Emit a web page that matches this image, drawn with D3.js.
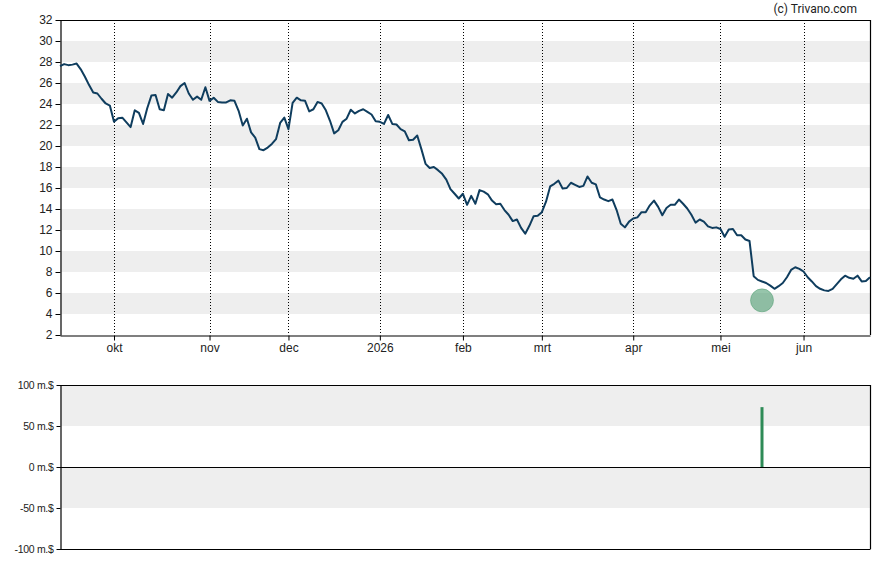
<!DOCTYPE html>
<html>
<head>
<meta charset="utf-8">
<script src="https://cdn.jsdelivr.net/npm/d3@7"></script>
<style>
  html, body { margin: 0; padding: 0; background: #fff; }
  svg { display: block; font-family: Roboto, "Liberation Sans", Arial, sans-serif; }
</style>
</head>
<body>
<svg id="chart" width="888" height="565"></svg>
<script>
// ---- data (one value per trading day, mid-Sep 2025 .. late Jun 2026) ----
const prices = [
  27.6, 27.8, 27.7, 27.75, 27.85, 27.3, 26.6, 25.8, 25.1, 25.0,
  24.5, 24.05, 23.85, 22.3, 22.65, 22.7, 22.25, 21.8, 23.4, 23.15,
  22.1, 23.6, 24.8, 24.85, 23.5, 23.4, 24.95, 24.6, 25.1, 25.7,
  26.0, 25.0, 24.4, 24.7, 24.4, 25.6, 24.3, 24.6, 24.2, 24.15,
  24.15, 24.35, 24.3, 23.35, 21.95, 22.6, 21.3, 20.8, 19.7, 19.6,
  19.85, 20.2, 20.65, 22.2, 22.7, 21.6, 24.1, 24.6, 24.35, 24.3,
  23.3, 23.5, 24.2, 24.05, 23.4, 22.4, 21.2, 21.5, 22.3, 22.6,
  23.45, 23.1, 23.35, 23.5, 23.25, 23.0, 22.35, 22.3, 22.1, 22.95,
  22.1, 22.05, 21.6, 21.4, 20.55, 20.6, 21.0, 19.7, 18.3, 17.9,
  18.0, 17.7, 17.35, 16.8, 15.9, 15.45, 15.0, 15.45, 14.4, 15.25,
  14.5, 15.8, 15.65, 15.4, 14.8, 14.45, 14.5, 13.9, 13.45, 12.85,
  13.0, 12.2, 11.65, 12.4, 13.3, 13.35, 13.7, 14.7, 16.15, 16.4,
  16.7, 15.95, 16.0, 16.5, 16.3, 16.1, 16.2, 17.1, 16.5, 16.35,
  15.1, 14.9, 14.75, 14.9, 13.9, 12.6, 12.25, 12.8, 13.1, 13.2,
  13.7, 13.7, 14.35, 14.8, 14.2, 13.4, 14.1, 14.4, 14.4, 14.9,
  14.5, 14.05, 13.45, 12.7, 13.0, 12.8, 12.35, 12.2, 12.25, 12.1,
  11.35, 12.05, 12.1, 11.5, 11.5, 11.1, 10.95, 7.6, 7.25, 7.1,
  6.95, 6.7, 6.4, 6.65, 6.95, 7.5, 8.2, 8.45, 8.3, 8.05,
  7.5, 7.1, 6.65, 6.4, 6.25, 6.2, 6.4, 6.85, 7.3, 7.65,
  7.45, 7.35, 7.65, 7.1, 7.15, 7.5
];
const monthLabels = ["okt", "nov", "dec", "2026", "feb", "mrt", "apr", "mei", "jun"];
const monthIndex  = [13, 36, 55, 77, 97, 116, 138, 159, 179];
const priceTicks  = [2, 4, 6, 8, 10, 12, 14, 16, 18, 20, 22, 24, 26, 28, 30, 32];
const priceBands  = [[4, 6], [8, 10], [12, 14], [16, 18], [20, 22], [24, 26], [28, 30]];
const markerIndex = [169];
const markerValue = [5.3];
const volIndex    = [169];
const volValue    = [73];
const volTicks    = [-100, -50, 0, 50, 100];
const volTickLabels = ["-100 m.$", "-50 m.$", "0 m.$", "50 m.$", "100 m.$"];
const volBands    = [[-50, 0], [50, 100]];

// ---- layout ----
const svg = d3.select("#chart");
const L = 60, R = 870;
const top1 = 20, bot1 = 335;
const top2 = 385, bot2 = 549;
const textCol = "#222";

const x = d3.scaleLinear().domain([0, prices.length - 1]).range([L, R]);
const y = d3.scaleLinear().domain([2, 32]).range([bot1, top1]);
const yv = d3.scaleLinear().domain([-100, 100]).range([bot2, top2]);

// ---- top panel ----
svg.append("g").selectAll("rect").data(priceBands).join("rect")
  .attr("x", L).attr("width", R - L)
  .attr("y", d => y(d[1])).attr("height", d => y(d[0]) - y(d[1]))
  .attr("fill", "#eeeeee");

svg.append("g").selectAll("line").data(monthIndex).join("line")
  .attr("x1", d => Math.round(x(d)) + 0.5).attr("x2", d => Math.round(x(d)) + 0.5)
  .attr("y1", top1).attr("y2", bot1)
  .attr("stroke", "#000").attr("stroke-width", 1).attr("stroke-dasharray", "1,2");

// frame top & right
svg.append("line").attr("x1", L).attr("x2", R + 0.5).attr("y1", top1 + 0.5).attr("y2", top1 + 0.5)
  .attr("stroke", "#000").attr("stroke-width", 1.2);
svg.append("line").attr("x1", R + 0.5).attr("x2", R + 0.5).attr("y1", top1).attr("y2", bot1)
  .attr("stroke", "#000").attr("stroke-width", 1.2);

const yAxis = d3.axisLeft(y).tickValues(priceTicks).tickSize(5).tickSizeOuter(0).tickPadding(3).tickFormat(d3.format("d"));
const gy = svg.append("g").attr("transform", `translate(${L + 0.5},0)`).call(yAxis);
gy.select(".domain").attr("stroke", "#000").attr("stroke-width", 1.2);
gy.selectAll(".tick line").attr("stroke", "#000");
gy.selectAll("text").attr("fill", textCol).style("font-size", "12px");

const xAxis = d3.axisBottom(x).tickValues(monthIndex).tickSize(5).tickSizeOuter(0).tickPadding(3)
  .tickFormat((d, i) => monthLabels[i]);
const gx = svg.append("g").attr("transform", `translate(0,${bot1 + 0.5})`).call(xAxis);
gx.select(".domain").attr("stroke", "#000").attr("stroke-width", 1.2);
gx.selectAll(".tick line").attr("stroke", "#000");
gx.selectAll("text").attr("fill", textCol).style("font-size", "12px");

const line = d3.line().x((d, i) => x(i)).y(d => y(d)).curve(d3.curveLinear);
svg.append("path").datum(prices).attr("d", line)
  .attr("fill", "none").attr("stroke", "#0f3d5e").attr("stroke-width", 2)
  .attr("stroke-linejoin", "round");

svg.append("g").selectAll("circle").data(markerIndex).join("circle")
  .attr("cx", d => x(d)).attr("cy", (d, i) => y(markerValue[i])).attr("r", 11.5)
  .attr("fill", "rgba(46,139,87,0.5)").attr("stroke", "rgba(46,139,87,0.35)").attr("stroke-width", 1);

svg.append("text").attr("x", 857).attr("y", 13).attr("text-anchor", "end")
  .attr("fill", textCol).style("font-size", "12px").text("(c) Trivano.com");

// ---- bottom panel ----
svg.append("g").selectAll("rect").data(volBands).join("rect")
  .attr("x", L).attr("width", R - L)
  .attr("y", d => yv(d[1])).attr("height", d => yv(d[0]) - yv(d[1]))
  .attr("fill", "#eeeeee");

svg.append("line").attr("x1", L).attr("x2", R + 0.5).attr("y1", top2 + 0.5).attr("y2", top2 + 0.5)
  .attr("stroke", "#000").attr("stroke-width", 1.2);
svg.append("line").attr("x1", R + 0.5).attr("x2", R + 0.5).attr("y1", top2).attr("y2", bot2)
  .attr("stroke", "#000").attr("stroke-width", 1.2);
svg.append("line").attr("x1", L).attr("x2", R + 0.5).attr("y1", bot2 + 0.5).attr("y2", bot2 + 0.5)
  .attr("stroke", "#000").attr("stroke-width", 1.2);
svg.append("line").attr("x1", L).attr("x2", R).attr("y1", yv(0) + 0.5).attr("y2", yv(0) + 0.5)
  .attr("stroke", "#000").attr("stroke-width", 1.2);

svg.append("g").selectAll("rect").data(volIndex).join("rect")
  .attr("x", d => x(d) - 1.5).attr("width", 3)
  .attr("y", (d, i) => yv(volValue[i])).attr("height", (d, i) => yv(0) - yv(volValue[i]))
  .attr("fill", "#2e8b57");

const yvAxis = d3.axisLeft(yv).tickValues(volTicks).tickSize(4).tickSizeOuter(0).tickPadding(3)
  .tickFormat((d, i) => volTickLabels[i]);
const gyv = svg.append("g").attr("transform", `translate(${L + 0.5},0)`).call(yvAxis);
gyv.select(".domain").attr("stroke", "#000").attr("stroke-width", 1.2);
gyv.selectAll(".tick line").attr("stroke", "#000");
gyv.selectAll("text").attr("fill", textCol).style("font-size", "10.5px").style("letter-spacing", "-0.3px");
</script>
</body>
</html>
